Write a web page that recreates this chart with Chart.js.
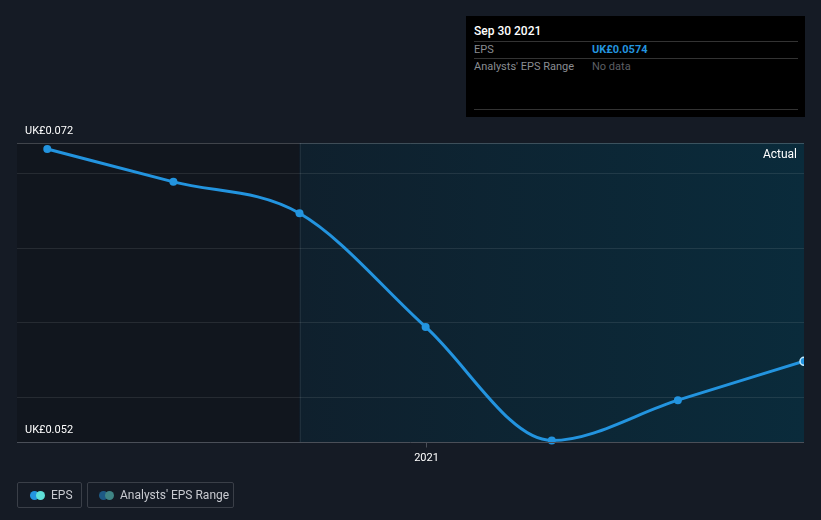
<!DOCTYPE html>
<html>
<head>
<meta charset="utf-8">
<script src="https://cdn.jsdelivr.net/npm/chart.js@4.4.0/dist/chart.umd.min.js"></script>
<style>
  html, body { margin:0; padding:0; background:#151b25; width:821px; height:520px; overflow:hidden; font-family: Roboto, "Noto Sans", sans-serif; }
  #wrap { position:absolute; left:0; top:0; width:821px; height:520px; }
  canvas { position:absolute; left:0; top:0; }
  #tip { position:absolute; left:466px; top:16px; width:339px; height:101px; background:#000; }
  #tip .t { position:absolute; left:8px; top:8px; color:#fff; font-size:12px; font-weight:500; }
  #tip .ln { position:absolute; left:8px; width:324px; height:1px; background:#333; }
  #tip .k { position:absolute; left:8px; color:#8a8d92; font-size:11px; }
  #tip .v { position:absolute; left:126px; font-size:11px; }
  .lg { position:absolute; top:482px; height:26px; border:1px solid #3a3f48; border-radius:2px; color:#c8cad0; font-size:12px; box-sizing:border-box; }
  .lg .d1, .lg .d2 { position:absolute; top:8px; width:9px; height:9px; border-radius:50%; }
  .lg span.txt { position:absolute; top:5px; }
</style>
</head>
<body>
<div id="wrap">
  <canvas id="c" width="821" height="520"></canvas>
  <div id="tip">
    <div class="t">Sep 30 2021</div>
    <div class="ln" style="top:25px"></div>
    <div class="k" style="top:27px">EPS</div>
    <div class="v" style="top:27px;color:#2394df;font-weight:700">UK£0.0574</div>
    <div class="ln" style="top:42px"></div>
    <div class="k" style="top:44px">Analysts' EPS Range</div>
    <div class="v" style="top:44px;color:#5c5f64">No data</div>
    <div class="ln" style="top:93px"></div>
  </div>
  <div class="lg" style="left:17px;width:65px">
    <div class="d1" style="left:12px;background:#2394df"></div>
    <div class="d2" style="left:18px;background:#5ee0d8"></div>
    <span class="txt" style="left:33px">EPS</span>
  </div>
  <div class="lg" style="left:87px;width:147px">
    <div class="d1" style="left:11px;background:#1d5a85"></div>
    <div class="d2" style="left:17px;background:#3f8585"></div>
    <span class="txt" style="left:32px">Analysts' EPS Range</span>
  </div>
</div>
<script>
const dates = [2020.25, 2020.5, 2020.75, 2021.0, 2021.25, 2021.5, 2021.75];
const eps = [0.0716, 0.0694, 0.0673, 0.0597, 0.0521, 0.0548, 0.0574];
const yTickLabels = [{v:0.072, t:'UK£0.072'}, {v:0.052, t:'UK£0.052'}];
const gridValues = [0.055, 0.060, 0.065, 0.070];
const xTicks = [{v:2021.0, t:'2021'}];
const actualStart = 2020.75;

const bgPlugin = {
  id:'bg',
  beforeDraw(chart){
    const {ctx, chartArea:a, scales:{x,y}} = chart;
    const xs = x.getPixelForValue(actualStart);
    ctx.save();
    ctx.fillStyle = '#11161e';
    ctx.fillRect(a.left, a.top, xs - a.left, a.bottom - a.top);
    const g = ctx.createLinearGradient(xs, 0, a.right, 0);
    g.addColorStop(0, '#0f202d');
    g.addColorStop(1, '#0a2b3b');
    ctx.fillStyle = g;
    ctx.fillRect(xs, a.top, a.right - xs, a.bottom - a.top);
    // grid lines
    ctx.lineWidth = 1;
    gridValues.forEach(v => {
      const py = Math.round(y.getPixelForValue(v)) + 0.5;
      ctx.strokeStyle = 'rgba(255,255,255,0.09)';
      ctx.beginPath(); ctx.moveTo(a.left, py); ctx.lineTo(a.right, py); ctx.stroke();
    });
    // top line
    let py = Math.round(y.getPixelForValue(0.072)) + 0.5;
    ctx.strokeStyle = 'rgba(255,255,255,0.2)';
    ctx.beginPath(); ctx.moveTo(a.left, py); ctx.lineTo(a.right, py); ctx.stroke();
    // divider
    ctx.strokeStyle = 'rgba(255,255,255,0.07)';
    ctx.beginPath(); ctx.moveTo(Math.round(xs)+0.5, a.top); ctx.lineTo(Math.round(xs)+0.5, a.bottom); ctx.stroke();
    ctx.restore();
  },
  afterDraw(chart){
    const {ctx, chartArea:a, scales:{x,y}} = chart;
    ctx.save();
    // bottom axis
    const by = Math.round(y.getPixelForValue(0.052)) + 0.5;
    ctx.strokeStyle = '#4a4f58';
    ctx.lineWidth = 1;
    ctx.beginPath(); ctx.moveTo(a.left, by); ctx.lineTo(a.right, by); ctx.stroke();
    ctx.fillStyle = '#ffffff';
    ctx.font = '11px Roboto, sans-serif';
    ctx.textBaseline = 'alphabetic';
    ctx.textAlign = 'left';
    yTickLabels.forEach(l => {
      ctx.fillText(l.t, 25, y.getPixelForValue(l.v) - 9);
    });
    ctx.textAlign = 'center';
    ctx.font = '11px Roboto, sans-serif';
    xTicks.forEach(t => {
      const px = Math.round(x.getPixelForValue(t.v)) + 0.5;
      ctx.strokeStyle = '#4a4f58';
      ctx.beginPath(); ctx.moveTo(px, by); ctx.lineTo(px, by + 5); ctx.stroke();
      ctx.fillText(t.t, px, by + 18);
    });
    ctx.textAlign = 'right';
    ctx.font = '12px Roboto, sans-serif';
    ctx.fillText('Actual', a.right - 7, a.top + 15);
    ctx.restore();
  }
};

new Chart(document.getElementById('c'), {
  type:'line',
  data:{
    datasets:[{
      data: dates.map((d,i)=>({x:d, y:eps[i]})),
      borderColor:'#2394df',
      borderWidth:3,
      cubicInterpolationMode:'monotone',
      pointRadius: eps.map((_,i)=> i===eps.length-1 ? 4 : 4),
      pointBackgroundColor:'#2394df',
      pointBorderColor: eps.map((_,i)=> i===eps.length-1 ? '#bfe8ff' : '#2394df'),
      pointBorderWidth: eps.map((_,i)=> i===eps.length-1 ? 1.5 : 0),
      clip: {left:false, top:false, right:0, bottom:false}
    }]
  },
  options:{
    responsive:false,
    animation:false,
    layout:{padding:{left:17, right:17, top:143, bottom:78}},
    plugins:{legend:{display:false}, tooltip:{enabled:false}},
    scales:{
      x:{type:'linear', min:2020.19, max:2021.75, display:false},
      y:{min:0.052, max:0.072, display:false}
    }
  },
  plugins:[bgPlugin]
});
</script>
</body>
</html>
